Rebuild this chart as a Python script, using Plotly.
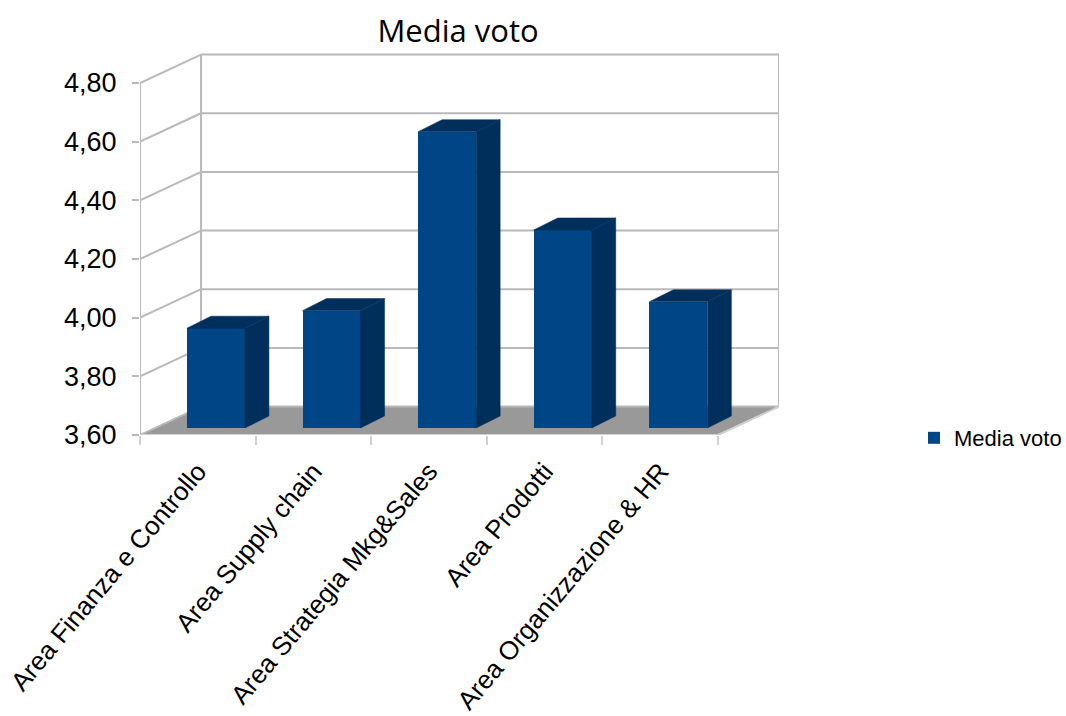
import plotly.graph_objects as go

categories = ["Area Finanza e Controllo", "Area Supply chain", "Area Strategia Mkg&Sales",
              "Area Prodotti", "Area Organizzazione & HR"]
values = [3.94, 4.00, 4.61, 4.275, 4.03]
y_ticks = [3.6, 3.8, 4.0, 4.2, 4.4, 4.6, 4.8]
y_labels = ["3,60", "3,80", "4,00", "4,20", "4,40", "4,60", "4,80"]
series_name = "Media voto"

FRONT, SIDE, FLOOR, GRID = "#004586", "#002f5c", "#999999", "#b8b8b8"
FONT = "Liberation Sans"
# oblique projection of the wall depth and of the bars, in axis units
WALL_DX, WALL_DY = 0.528, 0.097
BAR_SHIFT_X, BAR_SHIFT_Y = 0.157, 0.024
BAR_W, BAR_DX, BAR_DY = 0.502, 0.2076, 0.041
x0, x1 = -0.5, len(categories) - 0.5
y0, y1 = y_ticks[0], y_ticks[-1]

def line(xa, ya, xb, yb, color=GRID, width=2):
    return dict(type="line", xref="x", yref="y", x0=xa, y0=ya, x1=xb, y1=yb,
                line=dict(color=color, width=width), layer="below")

shapes = [dict(type="path", xref="x", yref="y", layer="below", fillcolor=FLOOR,
               line=dict(width=0),
               path=f"M{x0},{y0} L{x1},{y0} L{x1+WALL_DX},{y0+WALL_DY} L{x0+WALL_DX},{y0+WALL_DY} Z")]
for t in y_ticks:
    shapes.append(line(x0, t, x0 + WALL_DX, t + WALL_DY))
    shapes.append(line(x0 + WALL_DX, t + WALL_DY, x1 + WALL_DX, t + WALL_DY))
shapes += [line(x0, y0, x0, y1),
           line(x0 + WALL_DX, y0 + WALL_DY, x0 + WALL_DX, y1 + WALL_DY),
           line(x1 + WALL_DX, y0 + WALL_DY, x1 + WALL_DX, y1 + WALL_DY),
           line(x0, y0, x1, y0, "#d0d0d0"),
           line(x1, y0, x1 + WALL_DX, y0 + WALL_DY, "#d0d0d0")]

fig = go.Figure()
centers = [i + BAR_SHIFT_X for i in range(len(categories))]
base = y0 + BAR_SHIFT_Y
fig.add_trace(go.Bar(x=centers, y=[v - y0 for v in values], base=base, width=BAR_W,
                     marker=dict(color=FRONT, line=dict(width=0)), name=series_name,
                     showlegend=True, hovertext=categories))
for c, v in zip(centers, values):
    top = v + BAR_SHIFT_Y
    l, r = c - BAR_W / 2, c + BAR_W / 2
    fig.add_trace(go.Scatter(x=[r, r + BAR_DX, r + BAR_DX, r, r],
                             y=[base, base + BAR_DY, top + BAR_DY, top, base],
                             mode="lines", fill="toself", fillcolor=SIDE,
                             line=dict(width=0.5, color=SIDE), showlegend=False, hoverinfo="skip"))
    fig.add_trace(go.Scatter(x=[l, l + BAR_DX, r + BAR_DX, r, l],
                             y=[top, top + BAR_DY, top + BAR_DY, top, top],
                             mode="lines", fill="toself", fillcolor=SIDE,
                             line=dict(width=0.5, color=SIDE), showlegend=False, hoverinfo="skip"))

fig.update_layout(
    width=1066, height=716, autosize=False,
    margin=dict(l=140, r=287, t=53, b=281, autoexpand=False),
    paper_bgcolor="white", plot_bgcolor="white",
    bargap=0,
    shapes=shapes,
    font=dict(family=FONT, color="black"),
    title=dict(text=series_name, x=458 / 1066, xanchor="center", xref="container",
               y=1 - 31 / 716, yanchor="middle", yref="container",
               font=dict(family="Open Sans", size=31, color="black")),
    legend=dict(x=914 / 1066, xref="container", xanchor="left", y=1 - 438 / 716, yref="container",
                yanchor="middle", font=dict(size=22, family=FONT), bgcolor="rgba(0,0,0,0)",
                itemclick=False, itemdoubleclick=False),
    xaxis=dict(range=[x0, x0 + 639 / 115.6], tickmode="array", automargin=False,
               tickvals=list(range(len(categories))), ticktext=categories,
               tickangle=-50, tickfont=dict(size=26, family=FONT),
               ticks="", showgrid=False, zeroline=False, showline=False,
               ticklabelstandoff=15,
               minor=dict(tick0=-0.5, dtick=1, ticks="outside", ticklen=9, tickcolor="#d0d0d0",
                          tickwidth=2, showgrid=False)),
    yaxis=dict(range=[y0, y0 + 382 / 293.33], tickmode="array", tickvals=y_ticks, ticktext=y_labels,
               automargin=False,
               tickfont=dict(size=27, family=FONT), ticks="outside", ticklen=7,
               tickcolor=GRID, tickwidth=2, showgrid=False, zeroline=False, showline=False,
               ticklabelstandoff=10),
)
fig.write_html("out.html", config=dict(displayModeBar=False),
               post_script="document.body.style.margin='0';document.documentElement.style.overflow='hidden';")
